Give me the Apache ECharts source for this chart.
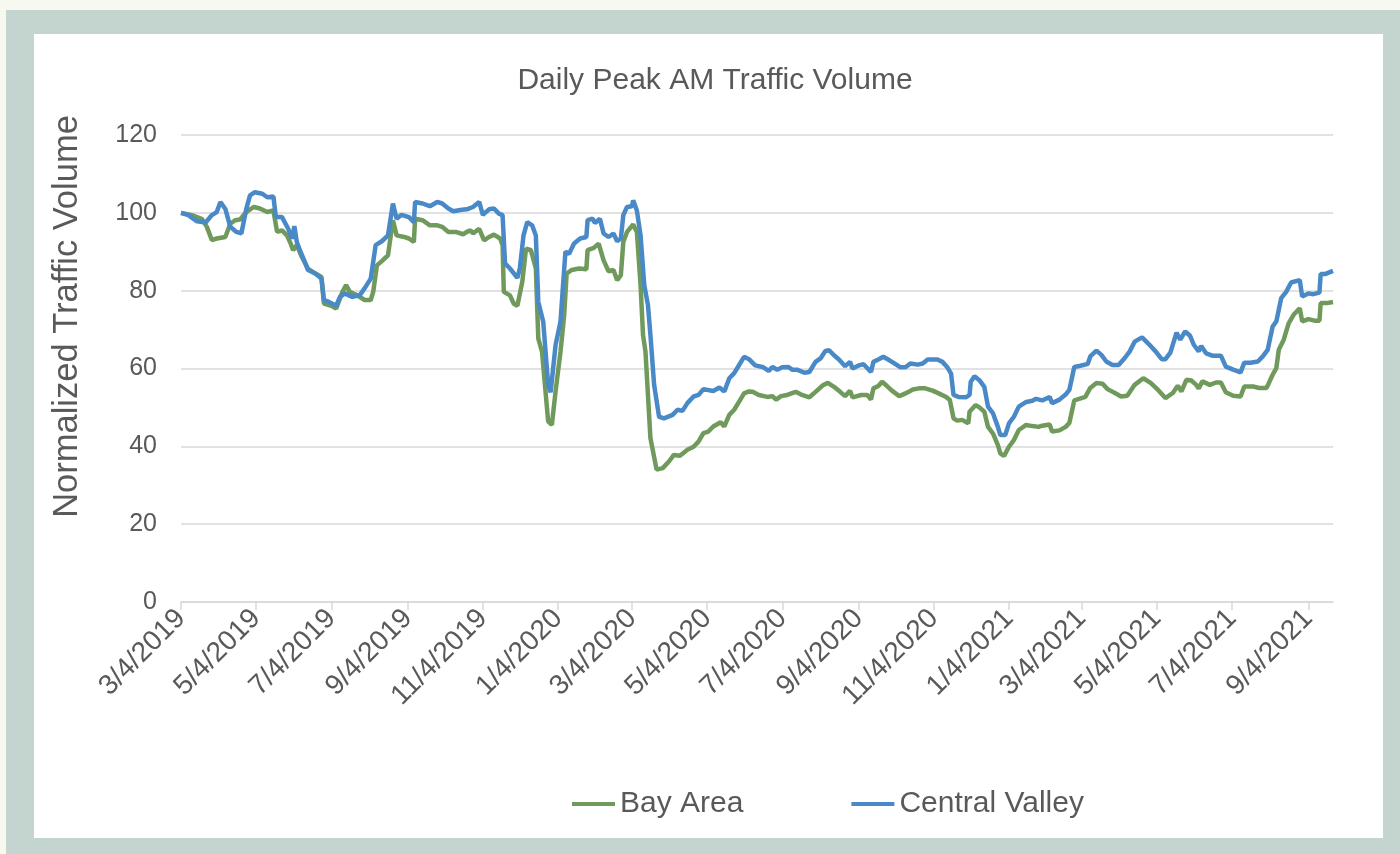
<!DOCTYPE html>
<html>
<head>
<meta charset="utf-8">
<title>Daily Peak AM Traffic Volume</title>
<script src="https://cdn.jsdelivr.net/npm/echarts@6/dist/echarts.min.js"></script>
<style>
    html, body { margin: 0; padding: 0; background: #f7f8f0; }
    #frame { position: absolute; left: 6px; top: 10px; width: 1394px; height: 844px; background: #c4d4ce; }
    #panel { position: absolute; left: 34px; top: 34px; width: 1349px; height: 804px; background: #ffffff; }
    #chart { position: absolute; left: 0; top: 0; width: 1400px; height: 854px; }
</style>
</head>
<body>
<div id="frame"></div>
<div id="panel"></div>
<div id="chart"></div>
<script>
    // daily axis runs from 3/4/2019 to 9/24/2021
    const firstDay = Date.UTC(2019, 2, 4)
    const dayCount = 936

    const tickLabels = ['3/4/2019', '5/4/2019', '7/4/2019', '9/4/2019', '11/4/2019', '1/4/2020',
        '3/4/2020', '5/4/2020', '7/4/2020', '9/4/2020', '11/4/2020', '1/4/2021',
        '3/4/2021', '5/4/2021', '7/4/2021', '9/4/2021']

    // [days since 3/4/2019, normalized volume]
    const bayArea = [
        [0, 100], [9, 99.4], [14, 98.8], [17, 98.4], [21, 96.4], [25, 93], [29, 93.4], [36, 93.8],
        [40, 97.2], [44, 98.1], [48, 98.3], [53, 100.2], [59, 101.5], [64, 101.1], [70, 100.2], [75, 100.6],
        [78, 95.1], [82, 95.5], [86, 94.2], [89, 92.1], [91, 90.4], [94, 91.7], [98, 88.7], [103, 85.7],
        [109, 84.4], [114, 83.5], [116, 76.7], [122, 76.1], [126, 75.4], [131, 79.7], [134, 81.4], [137, 79.7],
        [143, 78.8], [149, 77.6], [154, 77.6], [156, 79.7], [159, 86.5], [163, 87.6], [168, 89.1], [172, 98.1],
        [175, 94.2], [181, 93.8], [185, 93.4], [189, 92.5], [190, 98.5], [196, 98.1], [202, 96.8], [208, 96.8],
        [212, 96.4], [217, 95.1], [223, 95.1], [229, 94.5], [232, 95.1], [235, 95.5], [237, 94.7], [242, 95.9],
        [246, 92.9], [250, 93.8], [254, 94.4], [259, 93.4], [261, 91.7], [262, 79.7], [267, 78.8], [270, 76.7],
        [273, 76.1], [277, 82.3], [280, 90.8], [284, 90.4], [288, 85.7], [290, 67.7], [293, 64.3], [298, 46.4],
        [301, 45.5], [304, 54.1], [308, 64.3], [311, 73.7], [313, 84.4], [317, 85.3], [323, 85.7], [329, 85.5],
        [330, 90.4], [335, 91], [339, 92.1], [343, 87.8], [347, 85], [351, 85.3], [354, 82.7], [357, 84],
        [359, 92.5], [362, 95.1], [367, 97], [370, 95.1], [373, 81.4], [375, 68.6], [377, 64.3], [381, 42.1],
        [386, 34], [391, 34.4], [396, 36.1], [400, 37.8], [405, 37.6], [411, 39.1], [416, 39.9], [420, 41.2],
        [424, 43.4], [428, 43.8], [432, 45.1], [438, 46.2], [441, 45.1], [445, 48.1], [449, 49.4], [453, 51.5],
        [457, 53.6], [461, 54.1], [464, 54], [469, 53.2], [476, 52.7], [480, 52.9], [483, 52], [487, 52.9],
        [492, 53.2], [499, 54], [504, 53.2], [510, 52.6], [515, 54], [521, 55.7], [525, 56.3], [530, 55.3],
        [535, 54], [539, 52.9], [543, 54.3], [545, 52.6], [552, 53.2], [557, 53.2], [560, 52], [562, 54.9],
        [566, 55.5], [569, 56.6], [573, 55.5], [577, 54.3], [583, 52.9], [588, 53.6], [594, 54.6], [599, 54.9],
        [604, 54.9], [610, 54.3], [615, 53.6], [621, 52.7], [624, 51.9], [627, 47.2], [630, 46.6], [634, 46.8],
        [639, 45.9], [640, 48.9], [645, 50.6], [648, 50], [652, 48.9], [655, 45], [659, 43.3], [663, 40.3],
        [665, 38.2], [668, 37.5], [672, 39.9], [676, 41.6], [680, 44.2], [686, 45.5], [691, 45.2], [696, 45],
        [699, 45.3], [705, 45.6], [707, 43.8], [713, 44.1], [718, 45], [721, 46], [725, 51.8], [729, 52.2],
        [734, 52.7], [738, 55], [743, 56.3], [748, 56.1], [752, 54.7], [758, 53.7], [763, 52.8], [768, 53],
        [774, 55.8], [781, 57.5], [787, 56.3], [793, 54.5], [799, 52.4], [805, 53.7], [809, 55.6], [812, 54.1],
        [816, 57.1], [820, 56.9], [824, 55.8], [826, 54.9], [829, 56.7], [835, 55.8], [840, 56.4], [844, 56.4],
        [848, 53.9], [854, 53], [860, 52.8], [863, 55.4], [870, 55.4], [875, 55], [881, 55], [883, 56.3],
        [886, 58.4], [889, 60.1], [891, 64.8], [895, 67.4], [899, 71.6], [903, 73.8], [908, 75.5], [910, 72.1],
        [915, 72.7], [920, 72.3], [924, 72.3], [925, 76.8], [930, 76.8], [935, 77.1]
    ]

    const centralValley = [
        [0, 100], [6, 99.4], [13, 97.8], [20, 97.5], [25, 99.4], [29, 100.2], [32, 102.8], [36, 101],
        [40, 96.4], [45, 95.1], [49, 94.7], [53, 101], [56, 104.5], [60, 105.3], [66, 104.9], [70, 104],
        [75, 104.2], [77, 98.9], [82, 98.9], [87, 95.9], [90, 93.4], [92, 96.6], [94, 92.5], [97, 90],
        [101, 87], [103, 85.3], [109, 84.4], [114, 83.1], [116, 77.6], [120, 77.1], [126, 76.1], [129, 78.4],
        [133, 79.3], [139, 78.4], [145, 78.8], [149, 80.6], [154, 83.1], [158, 91.7], [163, 92.7], [168, 94.2],
        [172, 102.4], [175, 98.5], [179, 99.5], [185, 98.9], [189, 97.6], [190, 102.8], [196, 102.4], [202, 101.7],
        [208, 102.8], [212, 102.4], [217, 101.1], [221, 100.4], [228, 100.8], [232, 100.9], [237, 101.5], [242, 102.8],
        [245, 99.5], [250, 100.9], [254, 101.1], [258, 99.8], [261, 99.4], [263, 87], [267, 85.7], [273, 83.3],
        [275, 85.7], [278, 94.2], [281, 97.6], [285, 96.8], [288, 94.2], [290, 77.1], [294, 72], [298, 55.8],
        [300, 53.9], [304, 66], [308, 72], [312, 90], [315, 89.5], [319, 92.1], [324, 93.4], [329, 93.8],
        [330, 98.1], [334, 98.5], [336, 97.4], [340, 98.5], [343, 94.7], [347, 93.8], [351, 94.7], [354, 92.7],
        [357, 93.4], [359, 99.4], [362, 101.5], [366, 101.7], [367, 103.2], [370, 100.6], [373, 94.2], [376, 81.4],
        [379, 76.3], [381, 68.6], [384, 55.8], [388, 47.6], [392, 47.2], [399, 48.1], [403, 49.4], [407, 49.1],
        [411, 51.1], [416, 52.8], [420, 53.2], [424, 54.7], [432, 54.2], [437, 55.1], [441, 54.1], [445, 57.5],
        [449, 58.8], [453, 60.9], [457, 63], [461, 62.4], [466, 60.8], [472, 60.4], [477, 59.4], [480, 60.4],
        [484, 59.7], [488, 60.3], [493, 60.4], [496, 59.7], [500, 59.7], [506, 58.9], [510, 59.1], [515, 61.7],
        [519, 62.6], [523, 64.5], [526, 64.7], [530, 63.4], [534, 62.3], [539, 60.6], [543, 61.7], [545, 60],
        [550, 60.8], [554, 61.1], [560, 59.1], [562, 61.7], [566, 62.3], [570, 63], [575, 62.1], [579, 61.3],
        [584, 60.3], [588, 60.3], [592, 61.3], [598, 61], [602, 61.3], [606, 62.3], [610, 62.3], [614, 62.3],
        [618, 61.7], [622, 60.3], [625, 58.7], [627, 53.2], [631, 52.7], [637, 52.6], [640, 53.2], [641, 56.6],
        [644, 58], [648, 57], [652, 55.3], [655, 50.2], [659, 48.5], [663, 45], [665, 42.9], [669, 42.9],
        [672, 45.9], [676, 47.6], [680, 50.2], [686, 51.4], [691, 51.7], [694, 52.2], [699, 51.8], [705, 52.7],
        [707, 51.1], [713, 52], [718, 53.3], [721, 54.5], [725, 60.4], [730, 60.7], [736, 61.2], [738, 63.1],
        [743, 64.6], [747, 63.5], [751, 61.8], [756, 60.9], [761, 60.9], [766, 62.7], [770, 64.4], [774, 66.9],
        [780, 68], [786, 66.1], [791, 64.4], [796, 62.4], [799, 62.4], [803, 64.1], [808, 69.2], [811, 67.4],
        [815, 69.5], [819, 68.4], [822, 66.1], [826, 64.4], [828, 65.8], [832, 63.9], [837, 63.3], [844, 63.3],
        [848, 60.5], [854, 59.7], [860, 59], [863, 61.5], [868, 61.5], [874, 61.8], [878, 63.1], [882, 64.8],
        [886, 70.8], [889, 72.1], [893, 78.1], [897, 79.7], [901, 82.1], [908, 82.7], [910, 78.5], [915, 79.3],
        [919, 79.1], [924, 79.5], [925, 84.3], [929, 84.3], [935, 85.1]
    ]

    const textColor = '#595959'
    const fontFamily = '"Liberation Sans", Arial, sans-serif'

    let days = []
    for (let i = 0; i < dayCount; i++) {
        let d = new Date(firstDay + i * 86400000)
        days.push((d.getUTCMonth() + 1) + '/' + d.getUTCDate() + '/' + d.getUTCFullYear())
    }
    const isTick = (index, value) => tickLabels.indexOf(value) >= 0

    let chart = echarts.init(document.getElementById('chart'), null, {renderer: 'canvas'})
    chart.setOption({
        animation: false,
        backgroundColor: 'transparent',
        textStyle: {fontFamily: fontFamily},
        title: {
            text: 'Daily Peak AM Traffic Volume',
            left: 710,
            textAlign: 'center',
            top: 61,
            textStyle: {color: textColor, fontSize: 30, fontWeight: 'normal', fontFamily: fontFamily}
        },
        legend: {
            data: ['Bay Area', 'Central Valley'],
            left: 567,
            top: 784,
            icon: 'rect',
            itemWidth: 43,
            itemHeight: 4,
            itemGap: 108,
            textStyle: {color: textColor, fontSize: 30, fontFamily: fontFamily}
        },
        grid: {left: 181, right: 67, top: 135, bottom: 252, containLabel: false},
        xAxis: {
            type: 'category',
            data: days,
            boundaryGap: false,
            axisLine: {lineStyle: {color: '#d9d9d9', width: 1.5}},
            axisTick: {show: true, interval: isTick, length: 8, lineStyle: {color: '#d9d9d9', width: 1.5}},
            axisLabel: {
                interval: isTick,
                rotate: 45,
                margin: 12,
                color: textColor,
                fontSize: 28,
                fontFamily: fontFamily
            },
            splitLine: {show: false}
        },
        yAxis: {
            type: 'value',
            min: 0,
            max: 120,
            interval: 20,
            name: 'Normalized Traffic Volume',
            nameLocation: 'middle',
            nameGap: 96,
            nameTextStyle: {color: textColor, fontSize: 34.5, fontFamily: fontFamily, padding: [0, 0, 0, 104]},
            axisLine: {show: false},
            axisTick: {show: false},
            axisLabel: {margin: 24, color: textColor, fontSize: 25, fontFamily: fontFamily},
            splitLine: {lineStyle: {color: '#d9d9d9', width: 1.5}}
        },
        series: [
            {
                name: 'Bay Area',
                type: 'line',
                data: bayArea,
                showSymbol: false,
                symbol: 'none',
                color: '#6f9a5b',
                lineStyle: {width: 4.5, color: '#6f9a5b'}
            },
            {
                name: 'Central Valley',
                type: 'line',
                data: centralValley,
                showSymbol: false,
                symbol: 'none',
                color: '#4a89c7',
                lineStyle: {width: 4.5, color: '#4a89c7'}
            }
        ]
    })
</script>
</body>
</html>
